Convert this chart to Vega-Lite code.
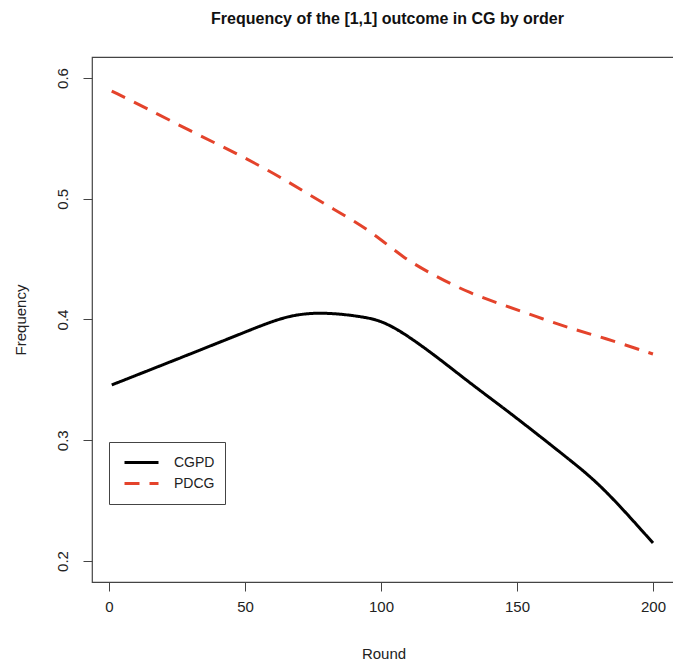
{
  "$schema": "https://vega.github.io/schema/vega-lite/v6.json",
  "autosize": "none",
  "width": 583,
  "height": 525,
  "padding": {"left": 92, "top": 57, "right": 0, "bottom": 87},
  "background": "white",
  "config": {
    "font": "Liberation Sans",
    "view": {"stroke": "#444", "strokeWidth": 1.2}
  },
  "title": {
    "text": "Frequency of the [1,1] outcome in CG by order",
    "font": "Liberation Sans",
    "fontSize": 16,
    "fontWeight": "bold",
    "color": "#111",
    "anchor": "middle",
    "baseline": "middle",
    "offset": 22,
    "dx": 4
  },
  "data": {
    "values": [
      {"round": 1, "freq": 0.3458, "order": "CGPD"},
      {"round": 17, "freq": 0.3600, "order": "CGPD"},
      {"round": 33.5, "freq": 0.3747, "order": "CGPD"},
      {"round": 51.8, "freq": 0.3912, "order": "CGPD"},
      {"round": 66.5, "freq": 0.4043, "order": "CGPD"},
      {"round": 80, "freq": 0.4060, "order": "CGPD"},
      {"round": 93.4, "freq": 0.4023, "order": "CGPD"},
      {"round": 100, "freq": 0.3990, "order": "CGPD"},
      {"round": 108, "freq": 0.3895, "order": "CGPD"},
      {"round": 120.5, "freq": 0.3692, "order": "CGPD"},
      {"round": 132.7, "freq": 0.3474, "order": "CGPD"},
      {"round": 144.9, "freq": 0.3270, "order": "CGPD"},
      {"round": 157.2, "freq": 0.3055, "order": "CGPD"},
      {"round": 169.5, "freq": 0.2836, "order": "CGPD"},
      {"round": 181.6, "freq": 0.2615, "order": "CGPD"},
      {"round": 200, "freq": 0.2149, "order": "CGPD"},
      {"round": 1, "freq": 0.5892, "order": "PDCG"},
      {"round": 13.9, "freq": 0.5749, "order": "PDCG"},
      {"round": 30.4, "freq": 0.5555, "order": "PDCG"},
      {"round": 46.9, "freq": 0.5376, "order": "PDCG"},
      {"round": 62.9, "freq": 0.5183, "order": "PDCG"},
      {"round": 78.8, "freq": 0.4962, "order": "PDCG"},
      {"round": 96, "freq": 0.4741, "order": "PDCG"},
      {"round": 108.2, "freq": 0.4507, "order": "PDCG"},
      {"round": 120.5, "freq": 0.4354, "order": "PDCG"},
      {"round": 132.7, "freq": 0.4217, "order": "PDCG"},
      {"round": 145, "freq": 0.4120, "order": "PDCG"},
      {"round": 157.2, "freq": 0.4023, "order": "PDCG"},
      {"round": 169.5, "freq": 0.3927, "order": "PDCG"},
      {"round": 181.7, "freq": 0.3850, "order": "PDCG"},
      {"round": 200, "freq": 0.3714, "order": "PDCG"}
    ]
  },
  "mark": {"type": "line", "interpolate": "basis", "strokeWidth": 3, "clip": true},
  "encoding": {
    "x": {
      "field": "round",
      "type": "quantitative",
      "scale": {"domain": [-6.25, 208.1], "nice": false, "zero": false},
      "axis": {
        "title": "Round",
        "values": [0, 50, 100, 150, 200],
        "grid": false,
        "domain": false,
        "tickSize": 9,
        "tickColor": "#444",
        "labelFontSize": 15,
        "labelColor": "#222",
        "labelPadding": 8,
        "labelFlush": false,
        "titleFontSize": 15,
        "titleFontWeight": "normal",
        "titleColor": "#222",
        "titleBaseline": "middle",
        "titleY": 71
      }
    },
    "y": {
      "field": "freq",
      "type": "quantitative",
      "scale": {"domain": [0.1826, 0.6174], "nice": false, "zero": false},
      "axis": {
        "title": "Frequency",
        "values": [0.2, 0.3, 0.4, 0.5, 0.6],
        "format": ".1f",
        "grid": false,
        "domain": false,
        "tickSize": 9,
        "tickColor": "#444",
        "labelFontSize": 15,
        "labelColor": "#222",
        "labelAngle": -90,
        "labelAlign": "center",
        "labelBaseline": "alphabetic",
        "labelPadding": 16,
        "labelFlush": false,
        "titleFontSize": 15,
        "titleFontWeight": "normal",
        "titleColor": "#222",
        "titleAngle": -90,
        "titleAlign": "center",
        "titleBaseline": "middle",
        "titleX": -72,
        "titleY": 262.5
      }
    },
    "color": {
      "field": "order",
      "type": "nominal",
      "scale": {"domain": ["CGPD", "PDCG"], "range": ["#000000", "#E4432B"]},
      "legend": {
        "title": null,
        "orient": "none",
        "legendX": 17,
        "legendY": 385,
        "direction": "vertical",
        "symbolType": "stroke",
        "symbolSize": 1156,
        "symbolStrokeWidth": 3,
        "symbolOffset": 4,
        "labelFontSize": 14,
        "labelColor": "#222",
        "labelOffset": 14,
        "labelExpr": "datum.label + '  '",
        "clipHeight": 21,
        "padding": 10,
        "rowPadding": 0,
        "strokeColor": "#444",
        "fillColor": "white"
      }
    },
    "strokeDash": {
      "field": "order",
      "type": "nominal",
      "scale": {"domain": ["CGPD", "PDCG"], "range": [[1, 0], [15, 10]]},
      "legend": null
    }
  }
}
